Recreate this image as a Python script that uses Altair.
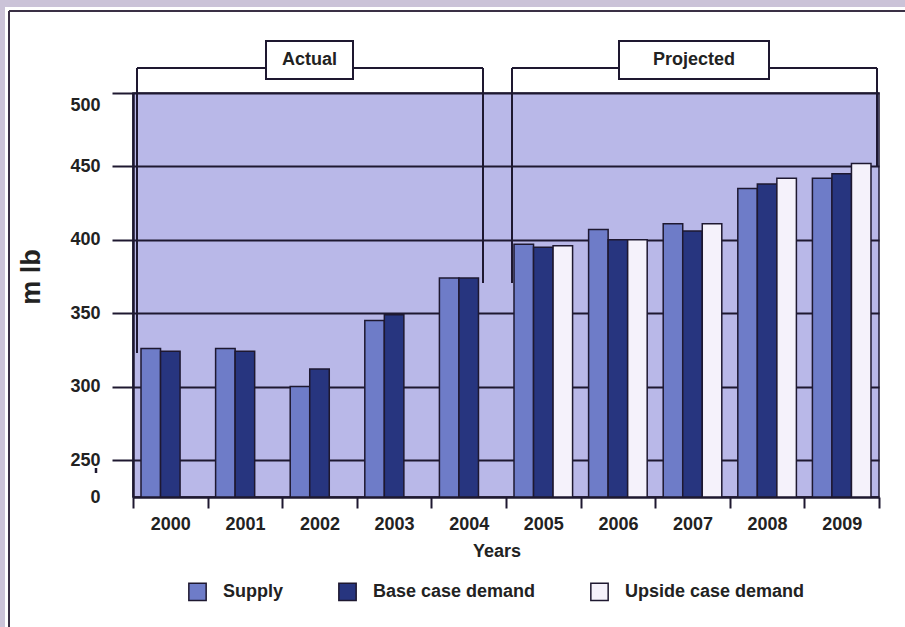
import altair as alt
import pandas as pd

years = ["2000", "2001", "2002", "2003", "2004", "2005", "2006", "2007", "2008", "2009"]
series_names = ["Supply", "Base case demand", "Upside case demand"]
supply = [326, 326, 300, 345, 374, 397, 407, 411, 435, 442]
base_demand = [324, 324, 312, 349, 374, 395, 400, 406, 438, 445]
upside_demand = [None, None, None, None, None, 396, 400, 411, 442, 452]
y_ticks = [0, 250, 300, 350, 400, 450, 500]
colors = ["#6e7cc8", "#27357f", "#f5f2fb"]

rows = []
for i, yr in enumerate(years):
    for name, vals in zip(series_names, [supply, base_demand, upside_demand]):
        if vals[i] is not None:
            rows.append({"year": yr, "series": name, "value": vals[i]})
df = pd.DataFrame(rows)

DARK = "#1e1830"
FONT = "Liberation Sans"
W, H = 746, 404
one = pd.DataFrame({"k": [0]})

bars = alt.Chart(df).mark_bar(stroke=DARK, strokeWidth=1.5).encode(
    x=alt.X("year:N", sort=years,
            scale=alt.Scale(paddingInner=0, paddingOuter=0),
            axis=alt.Axis(title=None, labelAngle=0, tickBand="extent", ticks=True,
                          tickSize=11, tickWidth=2, tickColor=DARK,
                          domainColor=DARK, domainWidth=2.5,
                          labelFont=FONT, labelFontSize=18, labelFontWeight="bold",
                          labelColor="#222", labelPadding=7, grid=False)),
    xOffset=alt.XOffset("series:N", sort=series_names,
                        scale=alt.Scale(domain=series_names, paddingInner=0, paddingOuter=0.41)),
    y=alt.Y("value:Q",
            scale=alt.Scale(domain=[0, 250, 500], range=[H, 367, 0], nice=False),
            axis=alt.Axis(title=None, values=y_ticks, tickSize=21, tickWidth=2, tickColor=DARK,
                          tickOpacity={"condition": {"test": "datum.value === 0", "value": 0}, "value": 1},
                          labelOffset={"condition": {"test": "datum.value === 500", "value": 12}, "value": 0},
                          labelPadding=12, labelFont=FONT, labelFontSize=18, labelFontWeight="bold",
                          labelColor="#222",
                          domainColor=DARK, domainWidth=2.5,
                          grid=True, gridColor=DARK, gridWidth=2,
                          gridOpacity={"condition": {"test": "datum.value === 0", "value": 0}, "value": 1})),
    color=alt.Color("series:N", sort=series_names,
                    scale=alt.Scale(domain=series_names, range=colors),
                    legend=alt.Legend(title=None, orient="none", direction="horizontal",
                                      legendX=55, legendY=489,
                                      symbolType="square", symbolSize=300,
                                      symbolStrokeColor=DARK, symbolStrokeWidth=1.5,
                                      symbolOpacity=1, labelLimit=0,
                                      labelFont=FONT, labelFontSize=18, labelFontWeight="bold",
                                      labelColor="#222", labelOffset=16, columnPadding=51)),
)


def rule(x, x2, y, y2, color=DARK, width=2):
    return alt.Chart(one).mark_rule(color=color, strokeWidth=width).encode(
        x=alt.value(x), x2=alt.value(x2), y=alt.value(y), y2=alt.value(y2))


def box(x, x2, y, y2, fill="white", stroke=DARK, width=2):
    return alt.Chart(one).mark_rect(fill=fill, stroke=stroke, strokeWidth=width).encode(
        x=alt.value(x), x2=alt.value(x2), y=alt.value(y), y2=alt.value(y2))


def label(text, x, y, size=18, angle=0):
    return alt.Chart(one).mark_text(text=text, font=FONT, fontSize=size, fontWeight="bold",
                                    color="#222", align="center", baseline="middle",
                                    angle=angle).encode(x=alt.value(x), y=alt.value(y))


# outer frame decoration
frame = [
    box(-133, 772, -93, -86, fill="#cbc3d8", stroke="#cbc3d8", width=0),
    box(-133, -128, -93, 534, fill="#cbc3d8", stroke="#cbc3d8", width=0),
    rule(-124, 772, -82, -82, color="#3a3045", width=2),
    rule(-124, -124, -82, 534, color="#3a3045", width=2),
]

brackets = [
    rule(4, 350, -25, -25), rule(4, 4, -25, 260), rule(350, 350, -25, 190),
    rule(379, 744, -25, -25), rule(379, 379, -25, 190), rule(744, 744, -25, 74),
    box(133, 220, -52, -14), box(486, 636, -52, -14),
    label("Actual", 176.5, -33), label("Projected", 561, -33),
]

extras = [
    label("m lb", -101.5, 184, size=27, angle=270),
    label("Years", 364, 459, size=18),
    rule(-37, -37, 375, 380, color=DARK, width=2.5),
]

chart = alt.layer(*frame, bars, *brackets, *extras).properties(
    width=W, height=H,
    autosize=alt.AutoSizeParams(type="none"),
    padding={"left": 133, "top": 93, "right": 26, "bottom": 130},
    background="white",
).configure_view(fill="#b9b8e8", stroke=DARK, strokeWidth=1.5)

chart.save("out.html", embed_options={"renderer": "svg", "actions": False})
